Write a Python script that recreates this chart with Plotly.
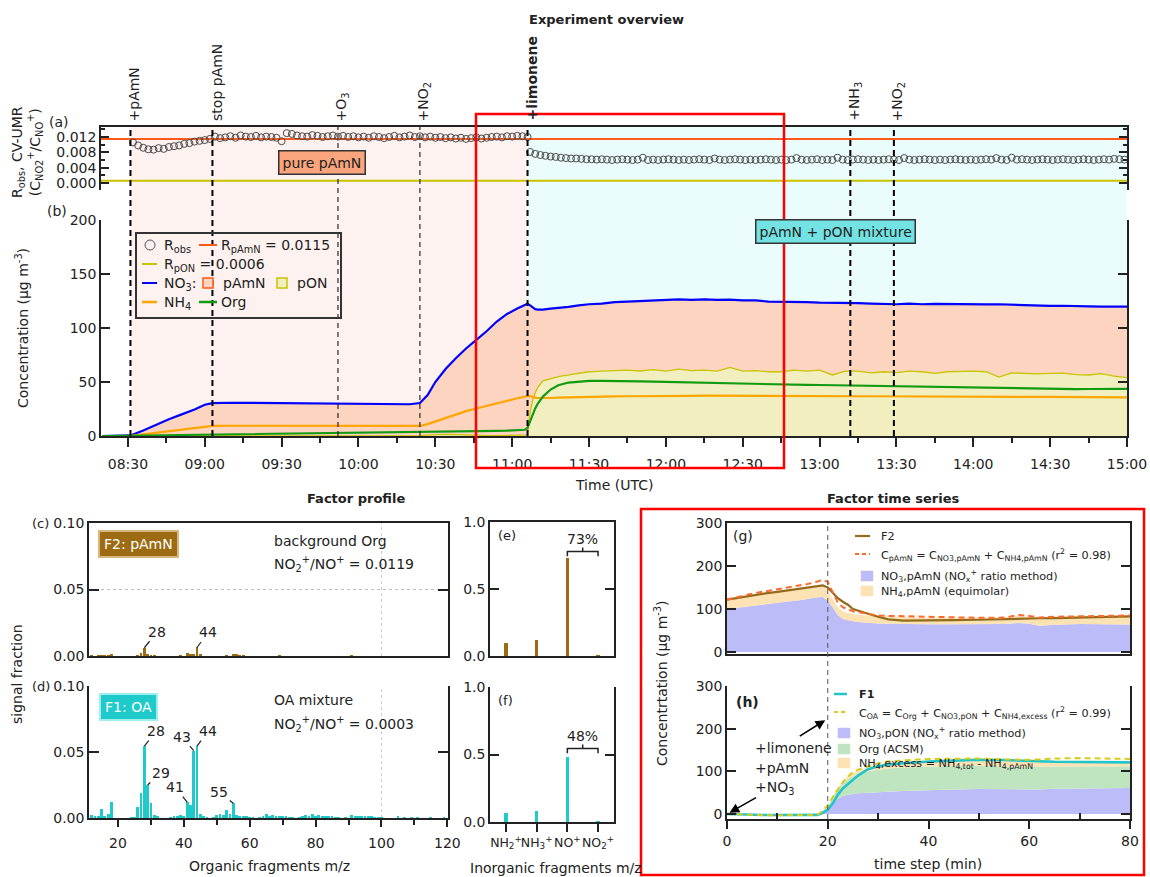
import pandas as pd
import plotly.graph_objects as go

W, H = 1150, 877
FONT = "DejaVu Sans"
INK = "#222222"


def X(px):
    return px / W


def Y(py):
    return 1 - py / H


DAY = "2000-01-01 "


def T(hm):
    return DAY + hm


# ---------------- panel (a): NO2+/NO+ ratio
R_pAmN = 0.0115
R_pON = 0.0006
robs_pre_start = "08:32"
robs_pre = [
    0.0106, 0.0098, 0.0092, 0.0088, 0.0087, 0.0091, 0.0089, 0.0094, 0.0096, 0.0098,
    0.0102, 0.0104, 0.0108, 0.0110, 0.0112, 0.0115, 0.0121, 0.0117, 0.0119, 0.0122,
    0.0118, 0.0124, 0.0121, 0.0120, 0.0123, 0.0119, 0.0121, 0.0120, 0.0118, 0.0109,
    0.0130, 0.0128, 0.0124, 0.0122, 0.0121, 0.0125, 0.0123, 0.0120, 0.0122, 0.0124,
    0.0121, 0.0123, 0.0120, 0.0122, 0.0119, 0.0121, 0.0118, 0.0122, 0.0120, 0.0117,
    0.0120, 0.0123, 0.0119, 0.0121, 0.0124, 0.0120, 0.0122, 0.0119, 0.0121, 0.0118,
    0.0120, 0.0117, 0.0119, 0.0116, 0.0118, 0.0115, 0.0117, 0.0119, 0.0116, 0.0118,
    0.0120, 0.0121, 0.0119, 0.0122, 0.0121, 0.0123, 0.0122, 0.0120]
robs_post_start = "11:07"
robs_post = [
    0.0081, 0.0076, 0.0073, 0.0071, 0.0069, 0.0068, 0.0066, 0.0065, 0.0064, 0.0064,
    0.0063, 0.0062, 0.0062, 0.0061, 0.0062, 0.0061, 0.0060, 0.0061, 0.0062, 0.0061,
    0.0060, 0.0061, 0.0066, 0.0060, 0.0061, 0.0060, 0.0061, 0.0062, 0.0061, 0.0060,
    0.0061, 0.0060, 0.0061, 0.0062, 0.0061, 0.0060, 0.0064, 0.0061, 0.0060, 0.0061,
    0.0062, 0.0061, 0.0060, 0.0061, 0.0060, 0.0061, 0.0062, 0.0061, 0.0060, 0.0061,
    0.0060, 0.0061, 0.0065, 0.0061, 0.0060, 0.0061, 0.0062, 0.0060, 0.0061, 0.0060,
    0.0066, 0.0061, 0.0060, 0.0061, 0.0062, 0.0061, 0.0060, 0.0061, 0.0060, 0.0061,
    0.0062, 0.0061, 0.0060, 0.0065, 0.0061, 0.0060, 0.0061, 0.0062, 0.0061, 0.0060,
    0.0061, 0.0060, 0.0061, 0.0062, 0.0061, 0.0060, 0.0061, 0.0060, 0.0061, 0.0062,
    0.0061, 0.0065, 0.0061, 0.0060, 0.0066, 0.0061, 0.0062, 0.0061, 0.0060, 0.0061,
    0.0062, 0.0061, 0.0060, 0.0061, 0.0062, 0.0061, 0.0060, 0.0061, 0.0062, 0.0061,
    0.0060, 0.0061, 0.0062, 0.0061, 0.0063, 0.0062, 0.0061]

# ---------------- panel (b): concentrations
time_b = [
    "08:20", "08:31", "08:36", "08:41", "08:46", "08:51", "08:56", "09:00", "09:03", "09:10",
    "09:20", "09:30", "09:40", "09:50", "10:00", "10:10", "10:20", "10:24", "10:27", "10:30",
    "10:34", "10:38", "10:42", "10:46", "10:50", "10:54", "10:58", "11:02", "11:05", "11:06",
    "11:07", "11:08", "11:09", "11:10", "11:12", "11:15", "11:18", "11:22", "11:26", "11:30",
    "11:35", "11:40", "11:45", "11:50", "11:55", "12:00", "12:05", "12:10", "12:15", "12:20",
    "12:25", "12:30", "12:35", "12:40", "12:45", "12:50", "12:55", "13:00", "13:05", "13:10",
    "13:15", "13:20", "13:25", "13:30", "13:35", "13:40", "13:45", "13:50", "13:55", "14:00",
    "14:05", "14:10", "14:15", "14:20", "14:25", "14:30", "14:35", "14:40", "14:45", "14:50",
    "14:55", "15:00"]
no3_total = [
    0, 0.5, 5, 10.5, 15.5, 20, 24.5, 29, 30.5, 30.8,
    30.5, 30.2, 30, 30, 29.8, 29.6, 29.4, 30.5, 38, 50,
    62, 72, 81, 89, 97, 106, 113, 118, 121.5, 122.5,
    121, 119, 117.5, 117, 117, 118, 118.5, 119.5, 121, 122,
    122.5, 124, 124.5, 125, 126, 126, 126.5, 126, 126.5, 126,
    126.3, 125.5, 125.5, 124.5, 124.5, 124, 124, 123.5, 123.5, 123,
    123, 122.5, 122, 122, 122.5, 122, 122.3, 122, 122.3, 122,
    121.8, 122, 121.5, 121.2, 120.8, 120.5, 120.6, 120, 120, 119.8,
    119.5, 119.8]
nh4_b = [
    0, 0.2, 1.5, 3, 4.8, 6.2, 7.6, 8.8, 9.4, 9.5,
    9.5, 9.4, 9.3, 9.2, 9.2, 9.1, 9.0, 9.3, 11, 13.5,
    17, 20, 23, 25.5, 28, 30.5, 33, 35, 36.5, 37.2,
    37, 36, 35.5, 35.2, 35, 35.2, 35.5, 35.8, 36, 36.3,
    36.5, 36.7, 36.8, 37, 37.2, 37.3, 37.3, 37.2, 37.3, 37.2,
    37.2, 37.1, 37.1, 37.0, 37.0, 37.0, 36.9, 37.0, 36.9, 36.8,
    36.8, 36.8, 36.7, 36.7, 36.7, 36.6, 36.6, 36.6, 36.5, 36.5,
    36.4, 36.4, 36.3, 36.3, 36.2, 36.2, 36.1, 36.0, 36.0, 35.9,
    35.8, 35.8]
org_b = [
    0, 0.3, 0.6, 0.9, 1.1, 1.3, 1.5, 1.6, 1.7, 1.8,
    2.0, 2.2, 2.4, 2.6, 2.8, 3.0, 3.2, 3.4, 3.5, 3.6,
    3.8, 4.0, 4.2, 4.4, 4.6, 4.8, 5.0, 5.3, 5.8, 7.5,
    14, 20, 25.5, 30, 36.5, 43, 47, 49.5, 50.5, 51,
    51, 51, 50.8, 50.5, 50.3, 50, 49.8, 49.6, 49.3, 49,
    48.8, 48.5, 48.3, 48, 47.8, 47.5, 47.3, 47.2, 47, 47,
    46.8, 46.6, 46.4, 46.2, 46, 45.8, 45.5, 45.2, 44.8, 44.4,
    44.2, 44, 43.8, 43.6, 43.5, 43.5, 43.4, 43.4, 43.5, 43.5,
    43.5, 43.6]
no3_pon_b = [
    0, 0, 0.2, 0.3, 0.3, 0.2, 0.3, 0.4, 0.3, 0.2,
    0.3, 0.2, 0.3, 0.4, 0.3, 0.2, 0.3, 0.4, 0.8, 1.2,
    1.5, 1.2, 0.8, 0.5, 0.3, 0.4, 0.6, 0.5, 0.6, 1.0,
    22, 33, 40, 45, 51, 53, 55, 56.5, 58, 59.5,
    60, 60.8, 61, 60.2, 61.5, 60, 62, 60.5, 61, 60,
    63.5, 60, 60.5, 59.5, 59.5, 61, 60, 61, 56.5, 60,
    60, 58.5, 59.5, 58.6, 60, 59.5, 58, 59.5, 60, 60,
    59.5, 54.5, 58.5, 58, 57.5, 58, 58.2, 56.8, 56.5, 57.8,
    55.5, 54]

event_time = ["08:31", "09:03", "09:52", "10:24", "11:06", "13:12", "13:29"]
event_label = ["+pAmN", "stop pAmN", "+O<sub>3</sub>", "+NO<sub>2</sub>",
               "<b>+limonene</b>", "+NH<sub>3</sub>", "+NO<sub>2</sub>"]
event_width = [2, 2, 1, 1, 2, 2, 2]
x_start, x_end = "08:19:30", "15:00"

# ---------------- panels (c)/(d): organic fragments
mz_f2 = [12, 14, 15, 16, 17, 18, 26, 27, 28, 29, 30, 31, 39, 41, 42, 43, 44, 45,
         53, 55, 56, 57, 58, 69, 91]
f2_org = [0.0003, 0.0003, 0.0004, 0.0003, 0.0005, 0.0012,
          0.0005, 0.0022, 0.0062, 0.0018, 0.0006, 0.0004,
          0.0005, 0.0022, 0.0016, 0.0010, 0.0064, 0.0008,
          0.0004, 0.0012, 0.0008, 0.0006, 0.0004, 0.0003, 0.0003]
mz_f1 = [12, 13, 14, 15, 16, 17, 18,
         24, 25, 26, 27, 28, 29, 30, 31, 32,
         36, 37, 38, 39, 40, 41, 42, 43, 44, 45, 46, 47,
         49, 50, 51, 52, 53, 54, 55, 56, 57, 58, 59, 60, 61,
         63, 64, 65, 66, 67, 68, 69, 70, 71, 72, 73,
         75, 76, 77, 78, 79, 80, 81, 82, 83, 84, 85, 86, 87,
         89, 91, 92, 93, 94, 95, 96, 97, 98, 99, 100,
         105, 107, 109, 111, 115, 119]
f1_org = [0.0022, 0.0015, 0.0012, 0.0072, 0.0008, 0.0030, 0.0120,
          0.0003, 0.0005, 0.0080, 0.0190, 0.0545, 0.0250, 0.0110, 0.0025, 0.0008,
          0.0005, 0.0012, 0.0015, 0.0020, 0.0008, 0.0120, 0.0100, 0.0510, 0.0545, 0.0030, 0.0008, 0.0005,
          0.0005, 0.0020, 0.0030, 0.0020, 0.0058, 0.0030, 0.0112, 0.0025, 0.0018, 0.0015, 0.0008, 0.0005, 0.0005,
          0.0005, 0.0010, 0.0030, 0.0015, 0.0022, 0.0012, 0.0018, 0.0010, 0.0012, 0.0005, 0.0005,
          0.0006, 0.0008, 0.0025, 0.0010, 0.0030, 0.0010, 0.0022, 0.0015, 0.0015, 0.0010, 0.0008, 0.0005, 0.0005,
          0.0004, 0.0025, 0.0010, 0.0012, 0.0008, 0.0018, 0.0008, 0.0008, 0.0005, 0.0004, 0.0004,
          0.0008, 0.0006, 0.0005, 0.0004, 0.0004, 0.0005]
peaks_c = [(28, 13, -16), (44, 11, -15)]
peaks_d = [(28, 12, -15), (29, 13, -12), (43, -12, -14), (44, 11, -15), (41, -12, -15), (55, -14, -11)]

# ---------------- panels (e)/(f): inorganic fragments
inorg_labels = ["NH<sub>2</sub><sup>+</sup>", "NH<sub>3</sub><sup>+</sup>",
                "NO<sup>+</sup>", "NO<sub>2</sub><sup>+</sup>"]
inorg_f2 = [0.095, 0.12, 0.73, 0.005]
inorg_f1 = [0.069, 0.084, 0.48, 0.004]

# ---------------- panels (g)/(h): factor time series
tstep = [0, 2, 4, 6, 8, 10, 12, 14, 16, 18, 19, 20, 21, 22, 23, 24, 25, 26,
         28, 30, 32, 35, 38, 40, 45, 50, 55, 58, 60, 62, 65, 70, 75, 80]
no3_pamn = [100, 103, 107, 110, 113, 115.5, 117.5, 120, 124, 127.5, 128, 119, 104, 86, 77, 74, 71.5, 70,
            68, 66.5, 66, 65, 64.5, 64.5, 64.5, 64.5, 65, 67.5, 66, 61, 63.5, 65, 64.5, 64]
nh4_pamn = [21, 22, 23, 24, 24.5, 25, 25.5, 25.5, 26, 26.5, 27, 22, 20, 18, 17.5, 17, 16.5, 16.5,
            16.5, 16.5, 16.5, 16, 15.5, 15, 14.5, 14.5, 15, 15.5, 16, 16, 17, 18, 19.5, 21]
f2_ts = [122, 126, 130, 134, 137, 140, 143, 146, 149, 153, 155, 150, 138, 125, 117, 110, 100, 96,
         89, 82, 76, 73, 73, 73.5, 74, 75, 77, 78, 78.5, 78.5, 79, 80, 81.5, 83]
c_pamn = [122, 128, 133, 138, 142, 146, 150, 154, 158, 164, 168, 163, 140, 115, 104, 99, 95, 93,
          89, 85, 84, 83, 82.5, 82, 80.5, 79.5, 80, 86, 84, 80, 82, 83, 84, 85]
f1_ts = [0, -1, -2, -2, -2.5, -2.5, -2.5, -2.5, -2.5, -2, 3, 10, 25, 45, 60, 69, 80, 90,
         105, 112, 116, 119, 122, 123, 125, 127, 126.5, 125, 123.5, 122.5, 122.5, 122, 121.5, 121]
c_oa = [0, -1, -2, -3, -3, -3, -3, -3, -3, -2, 8, 20, 40, 58, 75, 88, 98, 104,
        112, 119, 123, 126, 128, 129, 130, 130, 128, 127, 127, 128, 130, 131, 130, 129]
no3_pon_h = [0, 0, 0, 0, 0, 0, 0, 0, 0, 0, 0, 12, 28, 36, 42, 45, 47, 48.5,
             50, 51.5, 53, 54, 55, 56, 57.5, 58.5, 58, 57.5, 56.5, 57.5, 59, 60, 60.5, 61]
org_h = [0, 0, 0, 0, 0, 0, 0, 0, 0, 0, 0, 3, 12, 22, 30, 37, 42, 46,
         50, 52, 53.5, 55, 55.5, 56, 55.5, 54.5, 53.5, 53, 53, 53, 52.5, 52, 51.5, 51]
nh4_exc_h = [0, 0, 0, 0, 0, 0, 0, 0, 0, 0, 0, 1, 3, 5, 6, 7, 7.5, 8,
             8.5, 9, 10, 11, 12, 12.5, 13.5, 14, 14.5, 14.5, 15, 14.5, 13.5, 13, 12.5, 12]

# ---------------- colours
C_PINK_BG, C_CYAN_BG = "#fdf2ef", "#ebfcfd"
C_RPAMN, C_RPON = "#ff5a1a", "#c9c300"
C_SALMON, C_YELFILL = "#fcd4c0", "#f1efbf"
C_BLUE, C_ORANGE, C_GREEN = "#0000ff", "#ffa500", "#139a13"
C_BROWN, C_CYAN = "#9c6b12", "#1ecaca"
C_LAV, C_LORANGE, C_LGREEN = "#bcbcf8", "#fde2b3", "#bfe5c0"

fig = go.Figure()
x_range = [T(x_start), T(x_end)]

# ---- (a)
fig.add_trace(go.Scatter(x=x_range, y=[R_pAmN] * 2, mode="lines", line=dict(color=C_RPAMN, width=2),
                         xaxis="x", yaxis="y"))
fig.add_trace(go.Scatter(x=x_range, y=[R_pON] * 2, mode="lines", line=dict(color=C_RPON, width=2),
                         xaxis="x", yaxis="y"))
robs_t = list(pd.date_range(T(robs_pre_start), periods=len(robs_pre), freq="2min")) + \
    list(pd.date_range(T(robs_post_start), periods=len(robs_post), freq="2min"))
fig.add_trace(go.Scatter(x=robs_t, y=robs_pre + robs_post, mode="markers",
                         marker=dict(symbol="circle-open", size=7, color="#4a4a4a", line=dict(width=1)),
                         xaxis="x", yaxis="y"))

# ---- (b)
tb = [T(t) for t in time_b]
fig.add_trace(go.Scatter(x=tb, y=no3_pon_b, mode="lines", line=dict(color=C_RPON, width=1.3),
                         fill="tozeroy", fillcolor=C_YELFILL, xaxis="x2", yaxis="y2"))
fig.add_trace(go.Scatter(x=tb, y=no3_total, mode="lines", line=dict(color=C_BLUE, width=2.2),
                         fill="tonexty", fillcolor=C_SALMON, xaxis="x2", yaxis="y2"))
fig.add_trace(go.Scatter(x=tb, y=nh4_b, mode="lines", line=dict(color=C_ORANGE, width=2.2),
                         xaxis="x2", yaxis="y2"))
fig.add_trace(go.Scatter(x=tb, y=org_b, mode="lines", line=dict(color=C_GREEN, width=2.2),
                         xaxis="x2", yaxis="y2"))

# ---- (c)/(d)
fig.add_trace(go.Bar(x=mz_f2, y=f2_org, width=0.85, marker=dict(color=C_BROWN, line=dict(width=0)),
                     xaxis="x3", yaxis="y3"))
fig.add_trace(go.Bar(x=mz_f1, y=f1_org, width=0.85, marker=dict(color=C_CYAN, line=dict(width=0)),
                     xaxis="x4", yaxis="y4"))

# ---- (e)/(f)
fig.add_trace(go.Bar(x=[0, 1, 2, 3], y=inorg_f2, width=0.11, marker=dict(color=C_BROWN, line=dict(width=0)),
                     xaxis="x5", yaxis="y5"))
fig.add_trace(go.Bar(x=[0, 1, 2, 3], y=inorg_f1, width=0.11, marker=dict(color=C_CYAN, line=dict(width=0)),
                     xaxis="x6", yaxis="y6"))

# ---- (g)
fig.add_trace(go.Scatter(x=tstep, y=no3_pamn, mode="lines", stackgroup="g", fillcolor=C_LAV,
                         line=dict(width=0, color=C_LAV), xaxis="x7", yaxis="y7"))
fig.add_trace(go.Scatter(x=tstep, y=nh4_pamn, mode="lines", stackgroup="g", fillcolor=C_LORANGE,
                         line=dict(width=0, color=C_LORANGE), xaxis="x7", yaxis="y7"))
fig.add_trace(go.Scatter(x=tstep, y=f2_ts, mode="lines", line=dict(color="#946a1c", width=2.2),
                         xaxis="x7", yaxis="y7"))
fig.add_trace(go.Scatter(x=tstep, y=c_pamn, mode="lines", line=dict(color="#ff6a2a", width=2, dash="6px,4px"),
                         xaxis="x7", yaxis="y7"))

# ---- (h)
fig.add_trace(go.Scatter(x=tstep, y=no3_pon_h, mode="lines", stackgroup="h", fillcolor=C_LAV,
                         line=dict(width=0, color=C_LAV), xaxis="x8", yaxis="y8"))
fig.add_trace(go.Scatter(x=tstep, y=org_h, mode="lines", stackgroup="h", fillcolor=C_LGREEN,
                         line=dict(width=0, color=C_LGREEN), xaxis="x8", yaxis="y8"))
fig.add_trace(go.Scatter(x=tstep, y=nh4_exc_h, mode="lines", stackgroup="h", fillcolor=C_LORANGE,
                         line=dict(width=0, color=C_LORANGE), xaxis="x8", yaxis="y8"))
fig.add_trace(go.Scatter(x=tstep, y=f1_ts, mode="lines", line=dict(color="#20c5cc", width=2.6),
                         xaxis="x8", yaxis="y8"))
fig.add_trace(go.Scatter(x=tstep, y=c_oa, mode="lines", line=dict(color="#d6cc1c", width=2, dash="6px,4px"),
                         xaxis="x8", yaxis="y8"))

# ---------------- shapes & annotations
shapes, anns = [], []


def txt(px, py, text, size=14, xanchor="left", yanchor="middle", color=INK, angle=0, **kw):
    d = dict(x=X(px), y=Y(py), xref="paper", yref="paper", text=text, showarrow=False,
             xanchor=xanchor, yanchor=yanchor, textangle=angle,
             font=dict(family=FONT, size=size, color=color))
    d.update(kw)
    anns.append(d)


def pline(x0, x1, y0, y1, color, width=2, dash="solid"):
    shapes.append(dict(type="line", xref="paper", yref="paper", x0=X(x0), x1=X(x1), y0=Y(y0), y1=Y(y1),
                       line=dict(color=color, width=width, dash=dash)))


def prect(x0, y0, x1, y1, fill, line_color, lw=1.0):
    shapes.append(dict(type="rect", xref="paper", yref="paper", x0=X(x0), x1=X(x1), y0=Y(y1), y1=Y(y0),
                       fillcolor=fill, line=dict(color=line_color, width=lw)))


# background phases (a)+(b)
shapes.append(dict(type="rect", xref="x2", yref="paper", x0=T(event_time[0]), x1=T(event_time[4]),
                   y0=Y(436), y1=Y(127), fillcolor=C_PINK_BG, line=dict(width=0), layer="below"))
shapes.append(dict(type="rect", xref="x2", yref="paper", x0=T(event_time[4]), x1=T(x_end),
                   y0=Y(436), y1=Y(127), fillcolor=C_CYAN_BG, line=dict(width=0), layer="below"))

# event lines + labels
for t, lbl, w in zip(event_time, event_label, event_width):
    shapes.append(dict(type="line", xref="x2", yref="paper", x0=T(t), x1=T(t), y0=Y(436), y1=Y(127),
                       line=dict(color="black", width=w, dash="6px,4px" if w > 1 else "5px,4px"), layer="above"))
    anns.append(dict(x=T(t), y=Y(123), xref="x2", yref="paper", text=lbl, textangle=-90, showarrow=False,
                     xanchor="center", yanchor="bottom", xshift=4,
                     font=dict(family=FONT, size=14, color=INK)))

# titles
txt(606, 20, "<b>Experiment overview</b>", size=13, xanchor="center")
txt(356, 498, "<b>Factor profile</b>", size=13, xanchor="center")
txt(893, 498, "<b>Factor time series</b>", size=13, xanchor="center")

# panel labels and axis titles top
txt(47, 122, "(a)", size=14)
txt(45, 211, "(b)", size=14)
txt(27, 152, "R<sub>obs</sub>, CV-UMR<br>(C<sub>NO2</sub><sup>+</sup>/C<sub>NO</sub><sup>+</sup>)",
    size=14, xanchor="center", angle=-90)
txt(22, 328, "Concentration (µg m<sup>-3</sup>)", size=14, xanchor="center", angle=-90)
txt(614, 485, "Time (UTC)", size=14, xanchor="center")
txt(322, 163, "pure pAmN", size=14, xanchor="center", bgcolor="#f9a47c", bordercolor="#333333",
    borderwidth=1.5, borderpad=3)
txt(835, 231, "pAmN + pON mixture", size=14, xanchor="center", bgcolor="#72e2e2", bordercolor="#333333",
    borderwidth=1.5, borderpad=3)

# legend (b)
prect(136, 233, 341, 318, "rgba(0,0,0,0)", "#333333", 2)
shapes.append(dict(type="circle", xref="paper", yref="paper", x0=X(145), x1=X(155), y0=Y(250), y1=Y(240),
                   line=dict(color="#555555", width=1)))
txt(162, 246, "R<sub>obs</sub>")
pline(199, 217, 245, 245, C_RPAMN)
txt(219, 246, f"R<sub>pAmN</sub> = {R_pAmN}")
pline(142, 157, 264, 264, C_RPON)
txt(162, 265, f"R<sub>pON</sub> = {R_pON}")
pline(142, 157, 283, 283, C_BLUE)
txt(162, 284, "NO<sub>3</sub>:")
prect(203, 278, 213, 288, C_SALMON, C_RPAMN, 1.5)
txt(221, 283, "pAmN")
prect(277, 278, 287, 288, C_YELFILL, C_RPON, 1.5)
txt(295, 283, "pON")
pline(142, 157, 302, 302, C_ORANGE, 2.5)
txt(162, 303, "NH<sub>4</sub>")
pline(199, 217, 302, 302, C_GREEN, 2.5)
txt(219, 302, "Org")

# (c)/(d) annotations
txt(30, 523, "(c)", size=13)
txt(30, 686, "(d)", size=13)
txt(17, 674, "signal fraction", size=14, xanchor="center", angle=-90)
txt(269, 866, "Organic fragments m/z", size=14, xanchor="center")
txt(138, 544, "F2: pAmN", size=14, xanchor="center", color="white", bgcolor=C_BROWN,
    bordercolor="#d8b680", borderwidth=2, borderpad=4)
txt(128, 707, "F1: OA", size=14, xanchor="center", color="white", bgcolor=C_CYAN,
    bordercolor="#a0eeee", borderwidth=2, borderpad=4)
txt(272, 541, "background Org", size=14)
txt(272, 564, "NO<sub>2</sub><sup>+</sup>/NO<sup>+</sup> = 0.0119", size=14)
txt(272, 700, "OA mixture", size=14)
txt(272, 724, "NO<sub>2</sub><sup>+</sup>/NO<sup>+</sup> = 0.0003", size=14)
for mz, axo, ayo in peaks_c:
    anns.append(dict(x=mz, y=f2_org[mz_f2.index(mz)], xref="x3", yref="y3", text=str(mz), showarrow=True,
                     arrowhead=0, arrowwidth=1.2, arrowcolor=INK, ax=axo, ay=ayo,
                     font=dict(family=FONT, size=14, color=INK)))
for mz, axo, ayo in peaks_d:
    anns.append(dict(x=mz, y=f1_org[mz_f1.index(mz)], xref="x4", yref="y4", text=str(mz), showarrow=True,
                     arrowhead=0, arrowwidth=1.2, arrowcolor=INK, ax=axo, ay=ayo,
                     font=dict(family=FONT, size=14, color=INK)))
shapes.append(dict(type="line", xref="x3 domain", yref="y3", x0=0, x1=1, y0=0.05, y1=0.05,
                   line=dict(color="#bbbbbb", width=1, dash="dot"), layer="below"))
for xa, ya in (("x3", "y3 domain"), ("x4", "y4 domain")):
    shapes.append(dict(type="line", xref=xa, yref=ya, x0=100, x1=100, y0=0, y1=1,
                       line=dict(color="#cccccc", width=1, dash="dot"), layer="below"))

# (e)/(f) annotations
txt(496, 535, "(e)", size=13)
txt(496, 700, "(f)", size=13)
txt(556, 868, "Inorganic fragments m/z", size=14, xanchor="center")
for xa, ya, vals, lift in (("x5", "y5", inorg_f2, 0.05), ("x6", "y6", inorg_f1, 0.065)):
    yb = vals[2] + lift
    shapes.append(dict(type="path", xref=xa, yref=ya,
                       path=f"M 2,{yb - 0.035} L 2,{yb} L 3,{yb} L 3,{yb - 0.035} M 2.5,{yb} L 2.5,{yb + 0.03}",
                       line=dict(color=INK, width=1.5)))
    anns.append(dict(x=2.5, y=yb + 0.09, xref=xa, yref=ya, text=f"{round(vals[2] * 100)}%", showarrow=False,
                     font=dict(family=FONT, size=14, color=INK)))

# (g)/(h) annotations
shapes.append(dict(type="line", xref="x7", yref="paper", x0=20, x1=20, y0=Y(819), y1=Y(523),
                   line=dict(color="#555555", width=1, dash="5px,4px")))
txt(731, 536, "(g)", size=14)
txt(734, 702, "<b>(h)</b>", size=14)
txt(661, 683, "Concentrtation (µg m<sup>-3</sup>)", size=14, xanchor="center", angle=-90)
txt(928, 864, "time step (min)", size=14, xanchor="center")
LG = 11.2
# legend (g)
pline(855, 870, 536, 536, "#946a1c", 2.2)
txt(879, 536, "F2", size=LG)
pline(855, 870, 554, 554, "#ff6a2a", 2, "4px,3px")
txt(879, 555, "C<sub>pAmN</sub> = C<sub>NO3,pAmN</sub> + C<sub>NH4,pAmN</sub> (r<sup>2</sup> = 0.98)", size=LG)
prect(861, 571, 873, 581, C_LAV, C_LAV, 0.5)
txt(879, 576, "NO<sub>3</sub>,pAmN (NO<sub>x</sub><sup>+</sup> ratio method)", size=LG)
prect(861, 586, 873, 596, C_LORANGE, C_LORANGE, 0.5)
txt(879, 592, "NH<sub>4</sub>,pAmN (equimolar)", size=LG)
# legend (h)
pline(834, 847, 694, 694, "#20c5cc", 2.5)
txt(857, 694, "<b>F1</b>", size=LG)
pline(834, 847, 712, 712, "#d6cc1c", 2, "4px,3px")
txt(857, 713, "C<sub>OA</sub> = C<sub>Org</sub> + C<sub>NO3,pON</sub> + C<sub>NH4,excess</sub> (r<sup>2</sup> = 0.99)",
    size=LG)
prect(838, 728, 850, 738, C_LAV, C_LAV, 0.5)
txt(857, 733, "NO<sub>3</sub>,pON (NO<sub>x</sub><sup>+</sup> ratio method)", size=LG)
prect(838, 744, 850, 754, C_LGREEN, C_LGREEN, 0.5)
txt(857, 749, "Org (ACSM)", size=LG)
prect(838, 758, 850, 768, C_LORANGE, C_LORANGE, 0.5)
txt(857, 764, "NH<sub>4</sub>,excess = NH<sub>4,tot</sub> - NH<sub>4,pAmN</sub>", size=LG)
# arrows (h)
anns.append(dict(x=19.5, y=220, xref="x8", yref="y8", text="", showarrow=True, arrowhead=2, arrowsize=1.3,
                 arrowwidth=1.5, arrowcolor="black", ax=-27, ay=17))
anns.append(dict(x=0.5, y=3, xref="x8", yref="y8", text="", showarrow=True, arrowhead=2, arrowsize=1.3,
                 arrowwidth=1.5, arrowcolor="black", ax=28, ay=-16))
txt(753, 748, "+limonene", size=14)
txt(753, 768, "+pAmN", size=14)
txt(753, 788, "+NO<sub>3</sub>", size=14)

# red highlight boxes
prect(476, 114, 784, 468, "rgba(0,0,0,0)", "#ff0000", 2.5)
prect(641, 509, 1144, 875, "rgba(0,0,0,0)", "#ff0000", 2.5)


def axis(**kw):
    base = dict(showgrid=False, zeroline=False, showline=True, linecolor=INK, linewidth=1.5,
                tickcolor=INK, tickwidth=1.5, automargin=False,
                tickfont=dict(family=FONT, size=14, color=INK))
    base.update(kw)
    return base


XD_TOP = [X(101), X(1127)]
layout = dict(
    width=W, height=H, margin=dict(l=0, r=0, t=0, b=0, pad=0, autoexpand=False), autosize=False,
    paper_bgcolor="white", plot_bgcolor="rgba(0,0,0,0)", showlegend=False,
    font=dict(family=FONT, size=14, color=INK), bargap=0,
    shapes=shapes, annotations=anns,
    xaxis=axis(domain=XD_TOP, range=x_range, type="date", anchor="y", side="top", ticks="",
               showticklabels=False),
    yaxis=axis(domain=[Y(190), Y(127)], range=[-0.001825, 0.01461], anchor="x", mirror="ticks",
               ticks="inside", ticklen=8, tickmode="array", tickvals=[0, 0.004, 0.008, 0.012],
               tickformat=".3f",
               minor=dict(tickmode="array", tickvals=[0.002, 0.006, 0.010, 0.014], ticks="inside",
                          ticklen=4, tickcolor=INK)),
    xaxis2=axis(domain=XD_TOP, range=x_range, type="date", anchor="y2", ticks="outside", ticklen=9,
                tickmode="linear", tick0=T("08:30"), dtick=1800000, tickformat="%H:%M",
                minor=dict(tick0=T("08:15"), dtick=900000, ticks="outside", ticklen=5, tickcolor=INK),
                ticklabelstandoff=5),
    yaxis2=axis(domain=[Y(436), Y(220)], range=[0, 200], anchor="x2", mirror="ticks", ticks="inside",
                ticklen=9, tickmode="array", tickvals=[0, 50, 100, 150, 200]),
    xaxis3=axis(domain=[X(89), X(448)], range=[11.2, 120.2], anchor="y3", mirror=True, ticks="",
                showticklabels=False),
    yaxis3=axis(domain=[Y(656), Y(523)], range=[0, 0.1], anchor="x3", mirror="ticks", ticks="inside",
                ticklen=10, tickmode="array", tickvals=[0, 0.05, 0.1], tickformat=".2f"),
    xaxis4=axis(domain=[X(89), X(448)], range=[11.2, 120.2], anchor="y4", ticks="outside", ticklen=7,
                tickmode="array", tickvals=[20, 40, 60, 80, 100, 120],
                minor=dict(tickmode="array", tickvals=[30, 50, 70, 90, 110], ticks="outside", ticklen=5,
                           tickcolor=INK), ticklabelstandoff=4),
    yaxis4=axis(domain=[Y(818), Y(686)], range=[0, 0.1], anchor="x4", mirror="ticks", ticks="inside",
                ticklen=10, tickmode="array", tickvals=[0, 0.05, 0.1], tickformat=".2f"),
    xaxis5=axis(domain=[X(490), X(614)], range=[-0.52, 3.52], anchor="y5", mirror=True, ticks="",
                showticklabels=False),
    yaxis5=axis(domain=[Y(656), Y(522)], range=[0, 1], anchor="x5", mirror="ticks", ticks="inside",
                ticklen=9, tickmode="array", tickvals=[0, 0.5, 1], tickformat=".1f"),
    xaxis6=axis(domain=[X(490), X(614)], range=[-0.52, 3.52], anchor="y6", ticks="outside", ticklen=8,
                tickmode="array", tickvals=[0, 1, 2, 3], ticktext=inorg_labels, tickangle=0,
                tickfont=dict(family=FONT, size=12.5, color=INK)),
    yaxis6=axis(domain=[Y(822), Y(687)], range=[0, 1], anchor="x6", mirror="ticks", ticks="inside",
                ticklen=9, tickmode="array", tickvals=[0, 0.5, 1], tickformat=".1f"),
    xaxis7=axis(domain=[X(727), X(1130)], range=[0, 80], anchor="y7", mirror=True, ticks="",
                showticklabels=False),
    yaxis7=axis(domain=[Y(654), Y(523)], range=[-4.6, 300], anchor="x7", mirror="ticks", ticks="inside",
                ticklen=9, tickmode="array", tickvals=[0, 100, 200, 300]),
    xaxis8=axis(domain=[X(727), X(1130)], range=[0, 80], anchor="y8", ticks="outside", ticklen=8,
                tickmode="array", tickvals=[0, 20, 40, 60, 80],
                minor=dict(tickmode="array", tickvals=[10, 30, 50, 70], ticks="inside", ticklen=6,
                           tickcolor=INK)),
    yaxis8=axis(domain=[Y(819), Y(686)], range=[-11.7, 300], anchor="x8", mirror="ticks", ticks="inside",
                ticklen=9, tickmode="array", tickvals=[0, 100, 200, 300]),
)
fig.update_layout(**layout)
fig.update_traces(hoverinfo="skip")
fig.write_html("out.html", config={"displayModeBar": False},
               post_script="document.body.style.margin='0';document.body.style.overflow='hidden';")
